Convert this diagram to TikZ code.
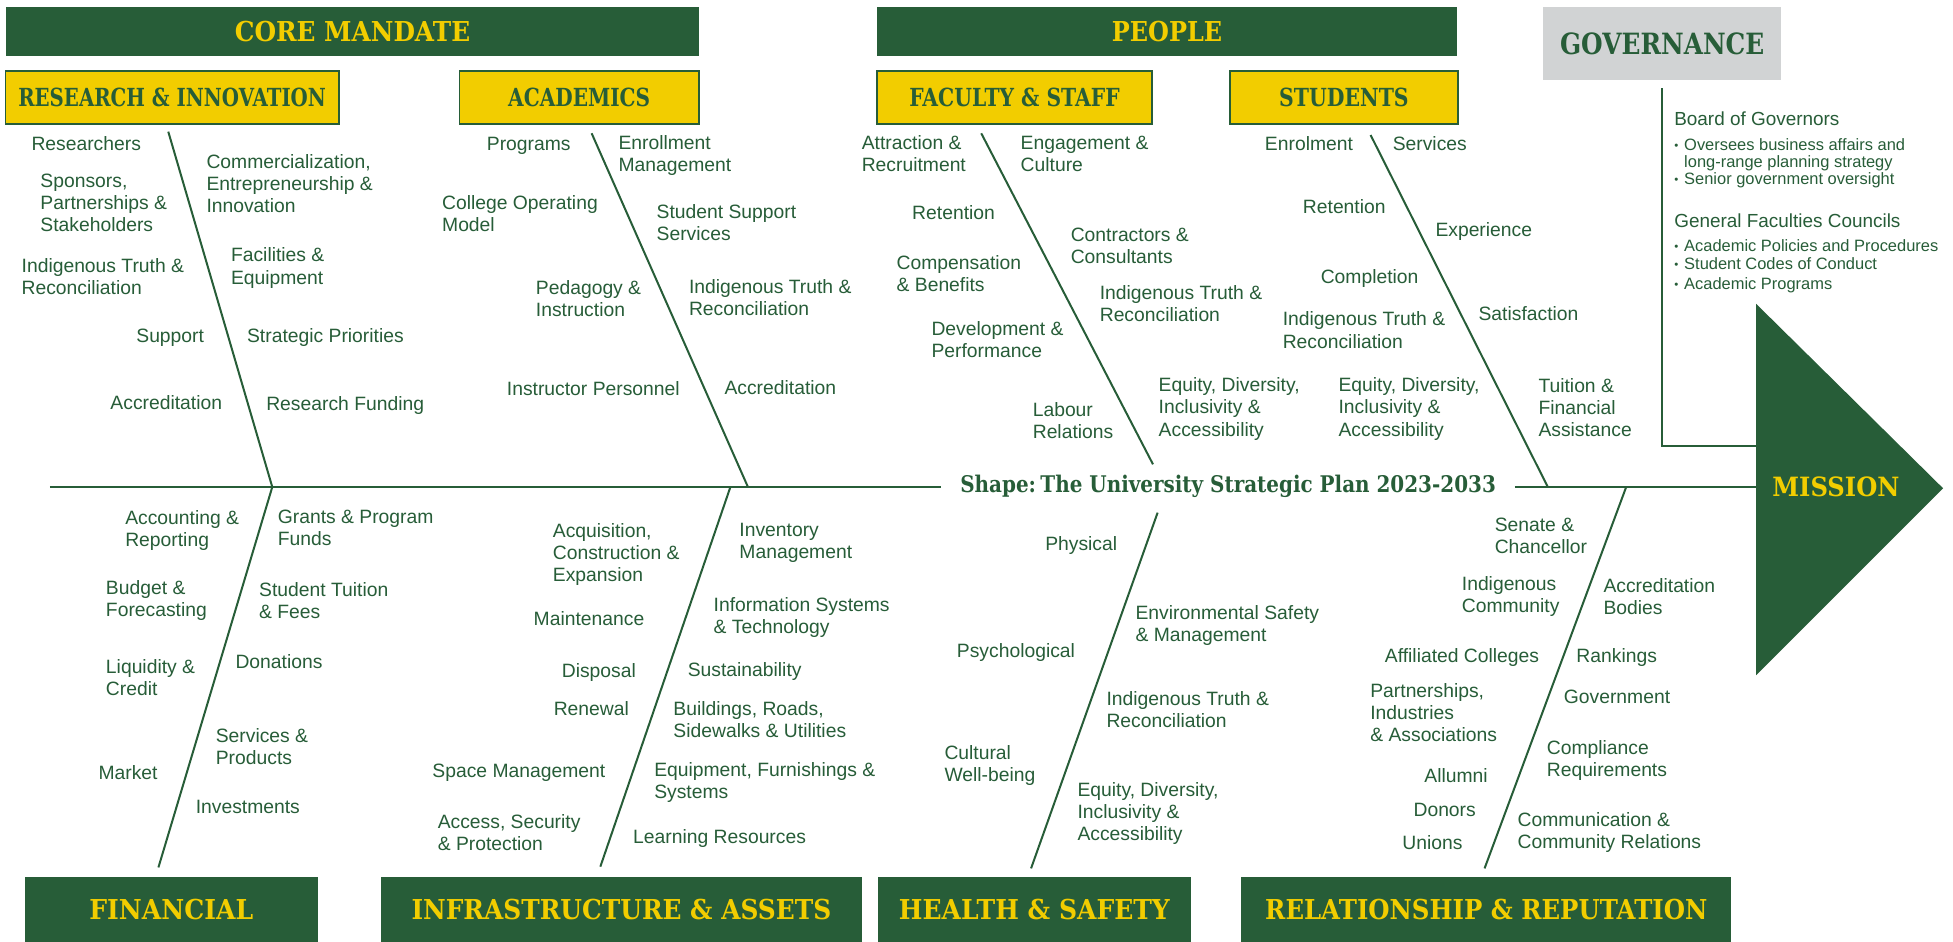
\documentclass[tikz,border=0pt]{standalone}
\usepackage{fontspec}
\usepackage{graphicx}
\setmainfont{Liberation Sans}
\newfontfamily\slabfont{DejaVu Serif}

\definecolor{uagreen}{HTML}{275D38}
\definecolor{uagold}{HTML}{F2CD00}
\definecolor{uagray}{HTML}{D1D3D4}

% set a title and squeeze it horizontally to a given width (in pt)
\newsavebox\titlebox
\newcommand\titlefit[2]{\sbox\titlebox{#2}%
  \pgfmathsetmacro\titlesx{#1/\the\wd\titlebox}%
  \scalebox{\titlesx}[1]{\usebox\titlebox}}
\newcommand\gbul{\makebox[8pt][l]{\raisebox{0.8pt}{\scalebox{0.7}{•}}}}

\tikzset{
  greenbar/.style={fill=uagreen, draw=none, inner sep=0pt, text=uagold,
    font=\slabfont\bfseries\fontsize{22}{24}\selectfont},
  goldbox/.style={fill=uagold, draw=uagreen, line width=1.4pt, inner sep=0pt, text=uagreen,
    font=\slabfont\bfseries\fontsize{20}{22}\selectfont},
  graybox/.style={fill=uagray, draw=none, inner sep=0pt, text=uagreen,
    font=\slabfont\bfseries\fontsize{23.5}{25}\selectfont},
  bone/.style={draw=uagreen, line width=1.6pt},
  lbl/.style={text=uagreen, font=\fontsize{15.5}{17.7}\selectfont, align=left,
    anchor=west, inner sep=0pt, execute at begin node=\strut,
    execute at end node=\strut, yshift=-2pt},
  govhead/.style={text=uagreen, font=\fontsize{15.2}{17}\selectfont, align=left,
    anchor=west, inner sep=0pt, execute at begin node=\strut,
    execute at end node=\strut, yshift=-2pt},
  govitem/.style={text=uagreen, font=\fontsize{13.2}{13.9}\selectfont, align=left,
    anchor=west, inner sep=0pt, execute at begin node=\strut,
    execute at end node=\strut, yshift=-1.5pt},
}

\begin{document}
\begin{tikzpicture}[x=1pt, y=-1pt]
\useasboundingbox (0,0) rectangle (1568,756);
\fill[white] (0,0) rectangle (1568,756);

% ---------- category headers ----------
\node[greenbar, minimum width=557pt, minimum height=39.3pt] (core) at (283,25) {\titlefit{189}{CORE MANDATE}};
\node[greenbar, minimum width=466pt, minimum height=39.3pt] (people) at (937,25) {\titlefit{88.5}{PEOPLE}};
\node[graybox, minimum width=191pt, minimum height=58.8pt] (gov) at (1334.5,34.8) {\titlefit{164}{GOVERNANCE}};

\node[goldbox, minimum width=267.7pt, minimum height=42.3pt] (resbox) at (138.2,78.4) {\titlefit{247}{RESEARCH \& INNOVATION}};
\node[goldbox, minimum width=192pt, minimum height=42.3pt] (acabox) at (465,78.4) {\titlefit{114}{ACADEMICS}};
\node[goldbox, minimum width=221pt, minimum height=42.3pt] (facbox) at (814.5,78.4) {\titlefit{169}{FACULTY \& STAFF}};
\node[goldbox, minimum width=183pt, minimum height=42.3pt] (stubox) at (1079,78.4) {\titlefit{104}{STUDENTS}};

\node[greenbar, minimum width=235pt, minimum height=53pt] (finbox) at (137.5,730.5) {\titlefit{131.5}{FINANCIAL}};
\node[greenbar, minimum width=386.3pt, minimum height=53pt] (infbox) at (498.9,730.5) {\titlefit{337}{INFRASTRUCTURE \& ASSETS}};
\node[greenbar, minimum width=251pt, minimum height=53pt] (hsbox) at (830.5,730.5) {\titlefit{217.5}{HEALTH \& SAFETY}};
\node[greenbar, minimum width=393.4pt, minimum height=53pt] (relbox) at (1193.3,730.5) {\titlefit{355}{RELATIONSHIP \& REPUTATION}};

% ---------- mission head ----------
\coordinate (mtop) at (1410,244);
\coordinate (mtip) at (1560,392);
\coordinate (mbot) at (1410,542);
\fill[uagreen] (mtop) -- (mtip) -- (mbot) -- cycle;
\node[text=uagold, inner sep=0pt, font=\slabfont\bfseries\fontsize{21.3}{23}\selectfont] (mission) at (1474,391) {\titlefit{102}{MISSION}};

% ---------- spine and plan title ----------
\node[text=uagreen, inner xsep=15pt, inner ysep=0pt, anchor=base,
  font=\slabfont\bfseries\fontsize{18.4}{20}\selectfont] (plan) at (986,395.5)
  {\titlefit{430}{Shape:\hspace{0.22em}The University Strategic Plan 2023-2033}};
\coordinate (spineL) at (40,391);
\draw[bone] (spineL) -- (spineL -| plan.west);
\draw[bone] (spineL -| plan.east) -- (spineL -| mtop);

% governance bracket
\coordinate (gtop) at (1334,71);
\coordinate (gjoin) at (1410,358);
\draw[bone] (gtop) |- (gjoin);

% ---------- bones ----------
\coordinate (riTop) at (135.1,105.7);
\coordinate (jRF) at (218.6,391);
\coordinate (finBot) at (127.2,696.4);
\coordinate (acTop) at (475,107);
\coordinate (jAc) at (600.5,391);
\coordinate (jIn) at (586.4,391);
\coordinate (infBot) at (482,695.8);
\coordinate (faTop) at (787.8,107);
\coordinate (faEnd) at (925.7,372.8);
\coordinate (hsTop) at (929.4,411.6);
\coordinate (hsBot) at (827.8,697.2);
\coordinate (stTop) at (1100.4,108.4);
\coordinate (jSt) at (1242.7,391);
\coordinate (jRe) at (1305.6,391);
\coordinate (reBot) at (1191.9,697.2);

\draw[bone] (riTop) -- (jRF);
\draw[bone] (jRF) -- (finBot);
\draw[bone] (acTop) -- (jAc);
\draw[bone] (jIn) -- (infBot);
\draw[bone] (faTop) -- (faEnd);
\draw[bone] (hsTop) -- (hsBot);
\draw[bone] (stTop) -- (jSt);
\draw[bone] (jRe) -- (reBot);

% ---------- research & innovation ----------
\node[lbl] (ri1) at (25.1,115) {Researchers};
\node[lbl] (ri2) at (32.3,163.6) {Sponsors,\\Partnerships \&\\Stakeholders};
\node[lbl] (ri3) at (17.2,223) {Indigenous Truth \&\\Reconciliation};
\node[lbl] (ri4) at (109.3,269.8) {Support};
\node[lbl] (ri5) at (88.5,323.3) {Accreditation};
\node[lbl] (ri6) at (165.6,147.8) {Commercialization,\\Entrepreneurship \&\\Innovation};
\node[lbl] (ri7) at (185.3,214.2) {Facilities \&\\Equipment};
\node[lbl] (ri8) at (198.2,269.8) {Strategic Priorities};
\node[lbl] (ri9) at (213.6,323.8) {Research Funding};

% ---------- academics ----------
\node[lbl] (ac1) at (390.7,115) {Programs};
\node[lbl] (ac2) at (354.8,171.7) {College Operating\\Model};
\node[lbl] (ac3) at (430.1,240) {Pedagogy \&\\Instruction};
\node[lbl] (ac4) at (406.8,311.8) {Instructor Personnel};
\node[lbl] (ac5) at (496.4,124) {Enrollment\\Management};
\node[lbl] (ac6) at (527,179.5) {Student Support\\Services};
\node[lbl] (ac7) at (553,239.5) {Indigenous Truth \&\\Reconciliation};
\node[lbl] (ac8) at (581.5,311.3) {Accreditation};

% ---------- faculty & staff ----------
\node[lbl] (fs1) at (691.7,124) {Attraction \&\\Recruitment};
\node[lbl] (fs2) at (819.3,124) {Engagement \&\\Culture};
\node[lbl] (fs3) at (732.2,170.7) {Retention};
\node[lbl] (fs4) at (719.7,220.1) {Compensation\\\& Benefits};
\node[lbl] (fs5) at (859.5,198.2) {Contractors \&\\Consultants};
\node[lbl] (fs6) at (882.8,244.5) {Indigenous Truth \&\\Reconciliation};
\node[lbl] (fs7) at (747.7,272.9) {Development \&\\Performance};
\node[lbl] (fs8) at (829,338) {Labour\\Relations};
\node[lbl] (fs9) at (930.1,327.4) {Equity, Diversity,\\Inclusivity \&\\Accessibility};

% ---------- students ----------
\node[lbl] (st1) at (1015.4,115.1) {Enrolment};
\node[lbl] (st2) at (1118,115.1) {Services};
\node[lbl] (st3) at (1045.9,165.9) {Retention};
\node[lbl] (st4) at (1152.3,184.7) {Experience};
\node[lbl] (st5) at (1060.2,222.1) {Completion};
\node[lbl] (st6) at (1029.7,265.6) {Indigenous Truth \&\\Reconciliation};
\node[lbl] (st7) at (1186.9,251.6) {Satisfaction};
\node[lbl] (st8) at (1074.5,327.4) {Equity, Diversity,\\Inclusivity \&\\Accessibility};
\node[lbl] (st9) at (1235,327.5) {Tuition \&\\Financial\\Assistance};

% ---------- financial ----------
\node[lbl] (fi1) at (100.4,424.6) {Accounting \&\\Reporting};
\node[lbl] (fi2) at (222.9,424.6) {Grants \& Program\\Funds};
\node[lbl] (fi3) at (84.9,481.1) {Budget \&\\Forecasting};
\node[lbl] (fi4) at (207.9,482.4) {Student Tuition\\\& Fees};
\node[lbl] (fi5) at (84.9,544.4) {Liquidity \&\\Credit};
\node[lbl] (fi6) at (188.9,531.3) {Donations};
\node[lbl] (fi7) at (173.1,600.2) {Services \&\\Products};
\node[lbl] (fi8) at (78.9,620.4) {Market};
\node[lbl] (fi9) at (157,647.7) {Investments};

% ---------- infrastructure & assets ----------
\node[lbl] (in1) at (443.7,443.9) {Acquisition,\\Construction \&\\Expansion};
\node[lbl] (in2) at (428.3,497) {Maintenance};
\node[lbl] (in3) at (450.9,538) {Disposal};
\node[lbl] (in4) at (444.4,568.8) {Renewal};
\node[lbl] (in5) at (347,618.3) {Space Management};
\node[lbl] (in6) at (351.3,669.2) {Access, Security\\\& Protection};
\node[lbl] (in7) at (593.5,435.1) {Inventory\\Management};
\node[lbl] (in8) at (572.8,494.5) {Information Systems\\\& Technology};
\node[lbl] (in9) at (552,537.2) {Sustainability};
\node[lbl] (in10) at (540.5,578) {Buildings, Roads,\\Sidewalks \& Utilities};
\node[lbl] (in11) at (525.1,627.2) {Equipment, Furnishings \&\\Systems};
\node[lbl] (in12) at (508.2,671.3) {Learning Resources};

% ---------- health & safety ----------
\node[lbl] (hs1) at (839,436.3) {Physical};
\node[lbl] (hs2) at (768.1,522.7) {Psychological};
\node[lbl] (hs3) at (758.1,613.3) {Cultural\\Well-being};
\node[lbl] (hs4) at (911.5,500.9) {Environmental Safety\\\& Management};
\node[lbl] (hs5) at (888.2,570.4) {Indigenous Truth \&\\Reconciliation};
\node[lbl] (hs6) at (864.9,652.4) {Equity, Diversity,\\Inclusivity \&\\Accessibility};

% ---------- relationship & reputation ----------
\node[lbl] (rr1) at (1199.9,430.7) {Senate \&\\Chancellor};
\node[lbl] (rr2) at (1173.5,477.9) {Indigenous\\Community};
\node[lbl] (rr3) at (1111.7,526.5) {Affiliated Colleges};
\node[lbl] (rr4) at (1100,572.5) {Partnerships,\\Industries\\\& Associations};
\node[lbl] (rr5) at (1143.4,622.8) {Allumni};
\node[lbl] (rr6) at (1134.7,649.6) {Donors};
\node[lbl] (rr7) at (1125.7,676.6) {Unions};
\node[lbl] (rr8) at (1287.2,479.8) {Accreditation\\Bodies};
\node[lbl] (rr9) at (1265.5,526.5) {Rankings};
\node[lbl] (rr10) at (1255.4,559.4) {Government};
\node[lbl] (rr11) at (1241.7,609.6) {Compliance\\Requirements};
\node[lbl] (rr12) at (1218.3,667.3) {Communication \&\\Community Relations};

% ---------- governance ----------
\node[govhead] (bog) at (1344,95) {Board of Governors};
\node[govitem] (bog1) at (1344,123.3) {\gbul Oversees business affairs and\\\hspace*{8pt}long-range planning strategy};
\node[govitem] (bog2) at (1344,143.7) {\gbul Senior government oversight};
\node[govhead] (gfc) at (1344,177.2) {General Faculties Councils};
\node[govitem] (gfc1) at (1344,197.3) {\gbul Academic Policies and Procedures};
\node[govitem] (gfc2) at (1344,212.2) {\gbul Student Codes of Conduct};
\node[govitem] (gfc3) at (1344,227.8) {\gbul Academic Programs};
\end{tikzpicture}
\end{document}
